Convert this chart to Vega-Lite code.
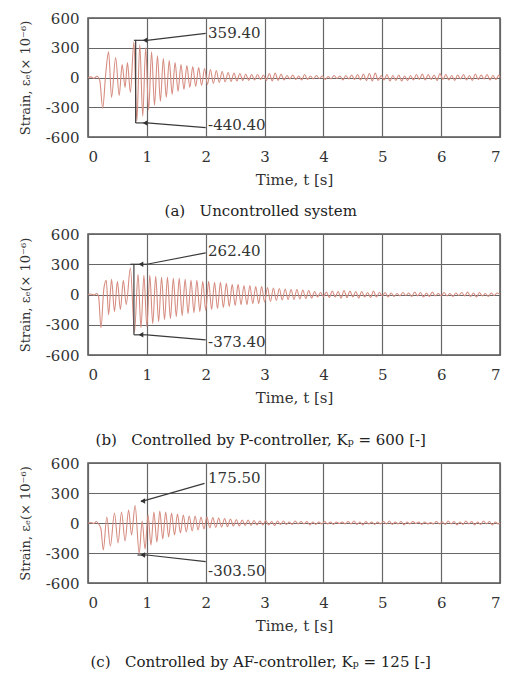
{
"$schema": "https://vega.github.io/schema/vega-lite/v6.json",
"background": "white",
"padding": {"top": 10, "left": 18, "right": 0, "bottom": 0},
"spacing": 6,
"datasets": {
"sig": [
{"p":"a","t":0,"v":0},{"p":"a","t":0.05,"v":6},{"p":"a","t":0.1,"v":-8},{"p":"a","t":0.15,"v":12},{"p":"a","t":0.2,"v":-30},{"p":"a","t":0.25,"v":-310},{"p":"a","t":0.3,"v":30},{"p":"a","t":0.35,"v":260},{"p":"a","t":0.4,"v":-200},{"p":"a","t":0.47,"v":200},{"p":"a","t":0.53,"v":-180},{"p":"a","t":0.58,"v":130},{"p":"a","t":0.63,"v":-100},{"p":"a","t":0.67,"v":150},{"p":"a","t":0.72,"v":-150},{"p":"a","t":0.78,"v":359.4},{"p":"a","t":0.83,"v":-440.4},{"p":"a","t":0.88,"v":330},{"p":"a","t":0.93,"v":-390},{"p":"a","t":0.98,"v":300},{"p":"a","t":1.03,"v":-330},{"p":"a","t":1.08,"v":260},{"p":"a","t":1.13,"v":-280},{"p":"a","t":1.18,"v":220},{"p":"a","t":1.23,"v":-240},{"p":"a","t":1.28,"v":190},{"p":"a","t":1.33,"v":-200},{"p":"a","t":1.38,"v":170},{"p":"a","t":1.43,"v":-170},{"p":"a","t":1.48,"v":150},{"p":"a","t":1.53,"v":-140},{"p":"a","t":1.58,"v":130},{"p":"a","t":1.63,"v":-120},{"p":"a","t":1.68,"v":120},{"p":"a","t":1.73,"v":-100},{"p":"a","t":1.78,"v":110},{"p":"a","t":1.83,"v":-90},{"p":"a","t":1.88,"v":100},{"p":"a","t":1.93,"v":-80},{"p":"a","t":1.98,"v":90},{"p":"a","t":2.03,"v":-70},{"p":"a","t":2.08,"v":80},{"p":"a","t":2.13,"v":-60},{"p":"a","t":2.18,"v":70},{"p":"a","t":2.23,"v":-50},{"p":"a","t":2.28,"v":60},{"p":"a","t":2.33,"v":-45},{"p":"a","t":2.38,"v":50},{"p":"a","t":2.43,"v":-40},{"p":"a","t":2.48,"v":45},{"p":"a","t":2.53,"v":-35},{"p":"a","t":2.58,"v":40},{"p":"a","t":2.63,"v":-30},{"p":"a","t":2.68,"v":35},{"p":"a","t":2.73,"v":-30},{"p":"a","t":2.78,"v":30},{"p":"a","t":2.83,"v":-25},{"p":"a","t":2.88,"v":30},{"p":"a","t":2.93,"v":-20},{"p":"a","t":2.98,"v":25},{"p":"a","t":3.03,"v":-30},{"p":"a","t":3.08,"v":40},{"p":"a","t":3.13,"v":-35},{"p":"a","t":3.18,"v":45},{"p":"a","t":3.23,"v":-30},{"p":"a","t":3.28,"v":35},{"p":"a","t":3.33,"v":-25},{"p":"a","t":3.38,"v":20},{"p":"a","t":3.43,"v":-15},{"p":"a","t":3.48,"v":25},{"p":"a","t":3.53,"v":-20},{"p":"a","t":3.58,"v":15},{"p":"a","t":3.63,"v":-25},{"p":"a","t":3.68,"v":30},{"p":"a","t":3.73,"v":-20},{"p":"a","t":3.78,"v":15},{"p":"a","t":3.83,"v":-15},{"p":"a","t":3.88,"v":20},{"p":"a","t":3.93,"v":-10},{"p":"a","t":3.98,"v":15},{"p":"a","t":4.03,"v":-20},{"p":"a","t":4.08,"v":10},{"p":"a","t":4.13,"v":-15},{"p":"a","t":4.18,"v":20},{"p":"a","t":4.23,"v":-10},{"p":"a","t":4.28,"v":15},{"p":"a","t":4.33,"v":-25},{"p":"a","t":4.38,"v":20},{"p":"a","t":4.43,"v":-15},{"p":"a","t":4.48,"v":25},{"p":"a","t":4.53,"v":-20},{"p":"a","t":4.58,"v":30},{"p":"a","t":4.63,"v":-25},{"p":"a","t":4.68,"v":35},{"p":"a","t":4.73,"v":-30},{"p":"a","t":4.78,"v":40},{"p":"a","t":4.83,"v":-35},{"p":"a","t":4.88,"v":45},{"p":"a","t":4.93,"v":-30},{"p":"a","t":4.98,"v":20},{"p":"a","t":5.03,"v":-25},{"p":"a","t":5.08,"v":30},{"p":"a","t":5.13,"v":-35},{"p":"a","t":5.18,"v":20},{"p":"a","t":5.23,"v":-30},{"p":"a","t":5.28,"v":25},{"p":"a","t":5.33,"v":-35},{"p":"a","t":5.38,"v":15},{"p":"a","t":5.43,"v":-30},{"p":"a","t":5.48,"v":20},{"p":"a","t":5.53,"v":-25},{"p":"a","t":5.58,"v":30},{"p":"a","t":5.63,"v":-20},{"p":"a","t":5.68,"v":35},{"p":"a","t":5.73,"v":-25},{"p":"a","t":5.78,"v":30},{"p":"a","t":5.83,"v":-20},{"p":"a","t":5.88,"v":25},{"p":"a","t":5.93,"v":-30},{"p":"a","t":5.98,"v":40},{"p":"a","t":6.03,"v":-20},{"p":"a","t":6.08,"v":30},{"p":"a","t":6.13,"v":-25},{"p":"a","t":6.18,"v":20},{"p":"a","t":6.23,"v":-30},{"p":"a","t":6.28,"v":25},{"p":"a","t":6.33,"v":-15},{"p":"a","t":6.38,"v":30},{"p":"a","t":6.43,"v":-25},{"p":"a","t":6.48,"v":20},{"p":"a","t":6.53,"v":-30},{"p":"a","t":6.58,"v":35},{"p":"a","t":6.63,"v":-20},{"p":"a","t":6.68,"v":25},{"p":"a","t":6.73,"v":-15},{"p":"a","t":6.78,"v":30},{"p":"a","t":6.83,"v":-25},{"p":"a","t":6.88,"v":20},{"p":"a","t":6.93,"v":-20},{"p":"a","t":6.98,"v":25},{"p":"a","t":7,"v":0},
{"p":"b","t":0,"v":0},{"p":"b","t":0.05,"v":5},{"p":"b","t":0.1,"v":-5},{"p":"b","t":0.15,"v":10},{"p":"b","t":0.18,"v":-20},{"p":"b","t":0.22,"v":-330},{"p":"b","t":0.27,"v":60},{"p":"b","t":0.31,"v":140},{"p":"b","t":0.35,"v":-200},{"p":"b","t":0.4,"v":150},{"p":"b","t":0.45,"v":-170},{"p":"b","t":0.5,"v":130},{"p":"b","t":0.55,"v":-150},{"p":"b","t":0.6,"v":140},{"p":"b","t":0.65,"v":-100},{"p":"b","t":0.72,"v":262.4},{"p":"b","t":0.79,"v":-373.4},{"p":"b","t":0.85,"v":200},{"p":"b","t":0.9,"v":-330},{"p":"b","t":0.95,"v":190},{"p":"b","t":1,"v":-320},{"p":"b","t":1.05,"v":190},{"p":"b","t":1.1,"v":-290},{"p":"b","t":1.15,"v":180},{"p":"b","t":1.2,"v":-270},{"p":"b","t":1.25,"v":170},{"p":"b","t":1.3,"v":-250},{"p":"b","t":1.35,"v":170},{"p":"b","t":1.4,"v":-240},{"p":"b","t":1.45,"v":160},{"p":"b","t":1.5,"v":-220},{"p":"b","t":1.55,"v":160},{"p":"b","t":1.6,"v":-210},{"p":"b","t":1.65,"v":150},{"p":"b","t":1.7,"v":-190},{"p":"b","t":1.75,"v":140},{"p":"b","t":1.8,"v":-180},{"p":"b","t":1.85,"v":140},{"p":"b","t":1.9,"v":-170},{"p":"b","t":1.95,"v":130},{"p":"b","t":2,"v":-160},{"p":"b","t":2.05,"v":130},{"p":"b","t":2.1,"v":-150},{"p":"b","t":2.15,"v":120},{"p":"b","t":2.2,"v":-140},{"p":"b","t":2.25,"v":120},{"p":"b","t":2.3,"v":-130},{"p":"b","t":2.35,"v":110},{"p":"b","t":2.4,"v":-120},{"p":"b","t":2.45,"v":100},{"p":"b","t":2.5,"v":-110},{"p":"b","t":2.55,"v":100},{"p":"b","t":2.6,"v":-100},{"p":"b","t":2.65,"v":90},{"p":"b","t":2.7,"v":-100},{"p":"b","t":2.75,"v":90},{"p":"b","t":2.8,"v":-90},{"p":"b","t":2.85,"v":80},{"p":"b","t":2.9,"v":-90},{"p":"b","t":2.95,"v":80},{"p":"b","t":3,"v":-75},{"p":"b","t":3.05,"v":70},{"p":"b","t":3.1,"v":-70},{"p":"b","t":3.15,"v":65},{"p":"b","t":3.2,"v":-60},{"p":"b","t":3.25,"v":60},{"p":"b","t":3.3,"v":-55},{"p":"b","t":3.35,"v":55},{"p":"b","t":3.4,"v":-50},{"p":"b","t":3.45,"v":50},{"p":"b","t":3.5,"v":-50},{"p":"b","t":3.55,"v":50},{"p":"b","t":3.6,"v":-45},{"p":"b","t":3.65,"v":45},{"p":"b","t":3.7,"v":-40},{"p":"b","t":3.75,"v":40},{"p":"b","t":3.8,"v":-35},{"p":"b","t":3.85,"v":30},{"p":"b","t":3.9,"v":-25},{"p":"b","t":3.95,"v":20},{"p":"b","t":4,"v":-20},{"p":"b","t":4.05,"v":25},{"p":"b","t":4.1,"v":-30},{"p":"b","t":4.15,"v":35},{"p":"b","t":4.2,"v":-25},{"p":"b","t":4.25,"v":30},{"p":"b","t":4.3,"v":-35},{"p":"b","t":4.35,"v":40},{"p":"b","t":4.4,"v":-30},{"p":"b","t":4.45,"v":35},{"p":"b","t":4.5,"v":-25},{"p":"b","t":4.55,"v":30},{"p":"b","t":4.6,"v":-35},{"p":"b","t":4.65,"v":30},{"p":"b","t":4.7,"v":-25},{"p":"b","t":4.75,"v":20},{"p":"b","t":4.8,"v":-30},{"p":"b","t":4.85,"v":35},{"p":"b","t":4.9,"v":-25},{"p":"b","t":4.95,"v":20},{"p":"b","t":5,"v":-15},{"p":"b","t":5.05,"v":20},{"p":"b","t":5.1,"v":-25},{"p":"b","t":5.15,"v":15},{"p":"b","t":5.2,"v":-20},{"p":"b","t":5.25,"v":10},{"p":"b","t":5.3,"v":-15},{"p":"b","t":5.35,"v":20},{"p":"b","t":5.4,"v":-10},{"p":"b","t":5.45,"v":15},{"p":"b","t":5.5,"v":-20},{"p":"b","t":5.55,"v":25},{"p":"b","t":5.6,"v":-15},{"p":"b","t":5.65,"v":20},{"p":"b","t":5.7,"v":-25},{"p":"b","t":5.75,"v":15},{"p":"b","t":5.8,"v":-20},{"p":"b","t":5.85,"v":25},{"p":"b","t":5.9,"v":-15},{"p":"b","t":5.95,"v":10},{"p":"b","t":6,"v":-15},{"p":"b","t":6.05,"v":20},{"p":"b","t":6.1,"v":-15},{"p":"b","t":6.15,"v":10},{"p":"b","t":6.2,"v":-20},{"p":"b","t":6.25,"v":15},{"p":"b","t":6.3,"v":-10},{"p":"b","t":6.35,"v":20},{"p":"b","t":6.4,"v":-15},{"p":"b","t":6.45,"v":25},{"p":"b","t":6.5,"v":-20},{"p":"b","t":6.55,"v":15},{"p":"b","t":6.6,"v":-25},{"p":"b","t":6.65,"v":20},{"p":"b","t":6.7,"v":-15},{"p":"b","t":6.75,"v":10},{"p":"b","t":6.8,"v":-20},{"p":"b","t":6.85,"v":15},{"p":"b","t":6.9,"v":-10},{"p":"b","t":6.95,"v":15},{"p":"b","t":7,"v":0},
{"p":"c","t":0,"v":0},{"p":"c","t":0.05,"v":5},{"p":"c","t":0.1,"v":-5},{"p":"c","t":0.14,"v":15},{"p":"c","t":0.18,"v":-10},{"p":"c","t":0.22,"v":-60},{"p":"c","t":0.26,"v":-270},{"p":"c","t":0.32,"v":60},{"p":"c","t":0.38,"v":-230},{"p":"c","t":0.45,"v":100},{"p":"c","t":0.51,"v":-200},{"p":"c","t":0.57,"v":110},{"p":"c","t":0.63,"v":-180},{"p":"c","t":0.69,"v":130},{"p":"c","t":0.74,"v":-120},{"p":"c","t":0.8,"v":175.5},{"p":"c","t":0.87,"v":-303.5},{"p":"c","t":0.92,"v":20},{"p":"c","t":0.97,"v":-260},{"p":"c","t":1.02,"v":80},{"p":"c","t":1.07,"v":-220},{"p":"c","t":1.12,"v":110},{"p":"c","t":1.17,"v":-190},{"p":"c","t":1.22,"v":120},{"p":"c","t":1.27,"v":-160},{"p":"c","t":1.32,"v":110},{"p":"c","t":1.37,"v":-140},{"p":"c","t":1.42,"v":100},{"p":"c","t":1.47,"v":-120},{"p":"c","t":1.52,"v":90},{"p":"c","t":1.57,"v":-100},{"p":"c","t":1.62,"v":80},{"p":"c","t":1.67,"v":-90},{"p":"c","t":1.72,"v":70},{"p":"c","t":1.77,"v":-80},{"p":"c","t":1.82,"v":70},{"p":"c","t":1.87,"v":-70},{"p":"c","t":1.92,"v":60},{"p":"c","t":1.97,"v":-60},{"p":"c","t":2.02,"v":60},{"p":"c","t":2.07,"v":-50},{"p":"c","t":2.12,"v":55},{"p":"c","t":2.17,"v":-45},{"p":"c","t":2.22,"v":50},{"p":"c","t":2.27,"v":-40},{"p":"c","t":2.32,"v":45},{"p":"c","t":2.37,"v":-35},{"p":"c","t":2.42,"v":40},{"p":"c","t":2.47,"v":-30},{"p":"c","t":2.52,"v":35},{"p":"c","t":2.57,"v":-30},{"p":"c","t":2.62,"v":30},{"p":"c","t":2.67,"v":-25},{"p":"c","t":2.72,"v":30},{"p":"c","t":2.77,"v":-25},{"p":"c","t":2.82,"v":25},{"p":"c","t":2.87,"v":-20},{"p":"c","t":2.92,"v":20},{"p":"c","t":2.97,"v":-20},{"p":"c","t":3.02,"v":25},{"p":"c","t":3.07,"v":-20},{"p":"c","t":3.12,"v":15},{"p":"c","t":3.17,"v":-25},{"p":"c","t":3.22,"v":20},{"p":"c","t":3.27,"v":-15},{"p":"c","t":3.32,"v":20},{"p":"c","t":3.37,"v":-15},{"p":"c","t":3.42,"v":10},{"p":"c","t":3.47,"v":-15},{"p":"c","t":3.52,"v":20},{"p":"c","t":3.57,"v":-10},{"p":"c","t":3.62,"v":15},{"p":"c","t":3.67,"v":-10},{"p":"c","t":3.72,"v":15},{"p":"c","t":3.77,"v":-20},{"p":"c","t":3.82,"v":10},{"p":"c","t":3.87,"v":-15},{"p":"c","t":3.92,"v":10},{"p":"c","t":3.97,"v":-10},{"p":"c","t":4.02,"v":15},{"p":"c","t":4.07,"v":-10},{"p":"c","t":4.12,"v":10},{"p":"c","t":4.17,"v":-15},{"p":"c","t":4.22,"v":10},{"p":"c","t":4.27,"v":-5},{"p":"c","t":4.32,"v":10},{"p":"c","t":4.37,"v":-10},{"p":"c","t":4.42,"v":15},{"p":"c","t":4.47,"v":-10},{"p":"c","t":4.52,"v":20},{"p":"c","t":4.57,"v":-15},{"p":"c","t":4.62,"v":10},{"p":"c","t":4.67,"v":-20},{"p":"c","t":4.72,"v":15},{"p":"c","t":4.77,"v":-10},{"p":"c","t":4.82,"v":10},{"p":"c","t":4.87,"v":-15},{"p":"c","t":4.92,"v":10},{"p":"c","t":4.97,"v":-10},{"p":"c","t":5.02,"v":15},{"p":"c","t":5.07,"v":-10},{"p":"c","t":5.12,"v":20},{"p":"c","t":5.17,"v":-15},{"p":"c","t":5.22,"v":10},{"p":"c","t":5.27,"v":-10},{"p":"c","t":5.32,"v":15},{"p":"c","t":5.37,"v":-20},{"p":"c","t":5.42,"v":10},{"p":"c","t":5.47,"v":-10},{"p":"c","t":5.52,"v":15},{"p":"c","t":5.57,"v":-5},{"p":"c","t":5.62,"v":10},{"p":"c","t":5.67,"v":-15},{"p":"c","t":5.72,"v":10},{"p":"c","t":5.77,"v":-10},{"p":"c","t":5.82,"v":5},{"p":"c","t":5.87,"v":-10},{"p":"c","t":5.92,"v":15},{"p":"c","t":5.97,"v":-10},{"p":"c","t":6.02,"v":10},{"p":"c","t":6.07,"v":-15},{"p":"c","t":6.12,"v":20},{"p":"c","t":6.17,"v":-10},{"p":"c","t":6.22,"v":15},{"p":"c","t":6.27,"v":-20},{"p":"c","t":6.32,"v":10},{"p":"c","t":6.37,"v":-15},{"p":"c","t":6.42,"v":20},{"p":"c","t":6.47,"v":-10},{"p":"c","t":6.52,"v":15},{"p":"c","t":6.57,"v":-20},{"p":"c","t":6.62,"v":10},{"p":"c","t":6.67,"v":-15},{"p":"c","t":6.72,"v":20},{"p":"c","t":6.77,"v":-10},{"p":"c","t":6.82,"v":15},{"p":"c","t":6.87,"v":-20},{"p":"c","t":6.92,"v":10},{"p":"c","t":6.97,"v":-10},{"p":"c","t":7,"v":0}
],
"seg": [
{"p":"a","t":0.78,"v":375,"t2":1.0,"v2":375},{"p":"a","t":1.0,"v":375,"t2":2.0,"v2":445},{"p":"a","t":0.81,"v":375,"t2":0.81,"v2":-458},{"p":"a","t":0.81,"v":-458,"t2":1.0,"v2":-458},{"p":"a","t":1.0,"v":-458,"t2":2.0,"v2":-505},
{"p":"b","t":0.72,"v":300,"t2":1.0,"v2":300},{"p":"b","t":1.0,"v":300,"t2":2.0,"v2":413},{"p":"b","t":0.78,"v":300,"t2":0.78,"v2":-400},{"p":"b","t":0.78,"v":-400,"t2":1.0,"v2":-400},{"p":"b","t":1.0,"v":-400,"t2":2.0,"v2":-450},
{"p":"c","t":0.9,"v":213,"t2":1.98,"v2":397},{"p":"c","t":0.84,"v":-320,"t2":1.0,"v2":-320},{"p":"c","t":1.0,"v":-320,"t2":2.0,"v2":-387}
],
"arr": [
{"p":"a","t":0.97,"v":375},{"p":"a","t":0.97,"v":-458},
{"p":"b","t":0.9,"v":300},{"p":"b","t":0.9,"v":-400},
{"p":"c","t":0.93,"v":220},{"p":"c","t":0.93,"v":-320}
],
"lab": [
{"p":"a","t":2.04,"v":450,"label":"359.40"},{"p":"a","t":2.04,"v":-478,"label":"-440.40"},
{"p":"b","t":2.04,"v":433,"label":"262.40"},{"p":"b","t":2.04,"v":-467,"label":"-373.40"},
{"p":"c","t":2.04,"v":450,"label":"175.50"},{"p":"c","t":2.04,"v":-480,"label":"-303.50"}
]
},
"vconcat": [
{
"width": 412, "height": 119,
"title": {"text": "(a)\u00a0\u00a0\u00a0Uncontrolled system", "orient": "bottom", "frame": "bounds", "anchor": "middle", "offset": 17},
"encoding": {
"x": {"field": "t", "type": "quantitative", "scale": {"domain": [0, 7], "nice": false}, "axis": {"title": "Time, t [s]", "values": [0,1,2,3,4,5,6,7], "labelPadding": 12, "titlePadding": 8}},
"y": {"field": "v", "type": "quantitative", "scale": {"domain": [-600, 600], "nice": false}, "axis": {"title": "Strain, εₑ(× 10⁻⁶)", "values": [-600,-300,0,300,600], "labelExpr": "'' + datum.value", "labelPadding": 9, "titlePadding": 13, "titleFontSize": 13}}
},
"layer": [
{"data": {"name": "sig"}, "transform": [{"filter": "datum.p === 'a'"}], "mark": {"type": "line", "color": "#d68c80", "strokeWidth": 1.1, "interpolate": "monotone"}},
{"data": {"name": "seg"}, "transform": [{"filter": "datum.p === 'a'"}], "mark": {"type": "rule", "color": "#3a3a3a", "strokeWidth": 1.2}, "encoding": {"x2": {"field": "t2"}, "y2": {"field": "v2"}}},
{"data": {"name": "arr"}, "transform": [{"filter": "datum.p === 'a'"}], "mark": {"type": "point", "shape": "triangle-left", "filled": true, "size": 30, "color": "#333", "opacity": 1}},
{"data": {"name": "lab"}, "transform": [{"filter": "datum.p === 'a'"}], "mark": {"type": "text", "align": "left", "baseline": "middle", "fontSize": 15, "color": "#333"}, "encoding": {"text": {"field": "label"}}}
]
},
{
"width": 412, "height": 121,
"title": {"text": "(b)\u00a0\u00a0\u00a0Controlled by P-controller, Kₚ = 600 [-]", "orient": "bottom", "frame": "bounds", "anchor": "middle", "offset": 28},
"encoding": {
"x": {"field": "t", "type": "quantitative", "scale": {"domain": [0, 7], "nice": false}, "axis": {"title": "Time, t [s]", "values": [0,1,2,3,4,5,6,7], "labelPadding": 12, "titlePadding": 8}},
"y": {"field": "v", "type": "quantitative", "scale": {"domain": [-600, 600], "nice": false}, "axis": {"title": "Strain, εₑ(× 10⁻⁶)", "values": [-600,-300,0,300,600], "labelExpr": "'' + datum.value", "labelPadding": 9, "titlePadding": 13, "titleFontSize": 13}}
},
"layer": [
{"data": {"name": "sig"}, "transform": [{"filter": "datum.p === 'b'"}], "mark": {"type": "line", "color": "#d68c80", "strokeWidth": 1.1, "interpolate": "monotone"}},
{"data": {"name": "seg"}, "transform": [{"filter": "datum.p === 'b'"}], "mark": {"type": "rule", "color": "#3a3a3a", "strokeWidth": 1.2}, "encoding": {"x2": {"field": "t2"}, "y2": {"field": "v2"}}},
{"data": {"name": "arr"}, "transform": [{"filter": "datum.p === 'b'"}], "mark": {"type": "point", "shape": "triangle-left", "filled": true, "size": 30, "color": "#333", "opacity": 1}},
{"data": {"name": "lab"}, "transform": [{"filter": "datum.p === 'b'"}], "mark": {"type": "text", "align": "left", "baseline": "middle", "fontSize": 15, "color": "#333"}, "encoding": {"text": {"field": "label"}}}
]
},
{
"width": 412, "height": 120,
"title": {"text": "(c)\u00a0\u00a0\u00a0Controlled by AF-controller, Kₚ = 125 [-]", "orient": "bottom", "frame": "bounds", "anchor": "middle", "offset": 22},
"encoding": {
"x": {"field": "t", "type": "quantitative", "scale": {"domain": [0, 7], "nice": false}, "axis": {"title": "Time, t [s]", "values": [0,1,2,3,4,5,6,7], "labelPadding": 12, "titlePadding": 8}},
"y": {"field": "v", "type": "quantitative", "scale": {"domain": [-600, 600], "nice": false}, "axis": {"title": "Strain, εₑ(× 10⁻⁶)", "values": [-600,-300,0,300,600], "labelExpr": "'' + datum.value", "labelPadding": 9, "titlePadding": 13, "titleFontSize": 13}}
},
"layer": [
{"data": {"name": "sig"}, "transform": [{"filter": "datum.p === 'c'"}], "mark": {"type": "line", "color": "#d68c80", "strokeWidth": 1.1, "interpolate": "monotone"}},
{"data": {"name": "seg"}, "transform": [{"filter": "datum.p === 'c'"}], "mark": {"type": "rule", "color": "#3a3a3a", "strokeWidth": 1.2}, "encoding": {"x2": {"field": "t2"}, "y2": {"field": "v2"}}},
{"data": {"name": "arr"}, "transform": [{"filter": "datum.p === 'c'"}], "mark": {"type": "point", "shape": "triangle-left", "filled": true, "size": 30, "color": "#333", "opacity": 1}},
{"data": {"name": "lab"}, "transform": [{"filter": "datum.p === 'c'"}], "mark": {"type": "text", "align": "left", "baseline": "middle", "fontSize": 15, "color": "#333"}, "encoding": {"text": {"field": "label"}}}
]
}
],
"config": {
"font": "DejaVu Serif",
"view": {"stroke": "#555", "strokeWidth": 1.5},
"axis": {"grid": true, "gridColor": "#666", "gridWidth": 1.2, "gridOpacity": 1, "domain": false, "ticks": false, "labelFont": "DejaVu Serif", "labelFontSize": 15, "labelColor": "#333", "titleFont": "DejaVu Serif", "titleFontSize": 15, "titleFontWeight": "normal", "titleColor": "#333"},
"title": {"font": "DejaVu Serif", "fontSize": 15, "fontWeight": "normal", "color": "#222"}
}
}
